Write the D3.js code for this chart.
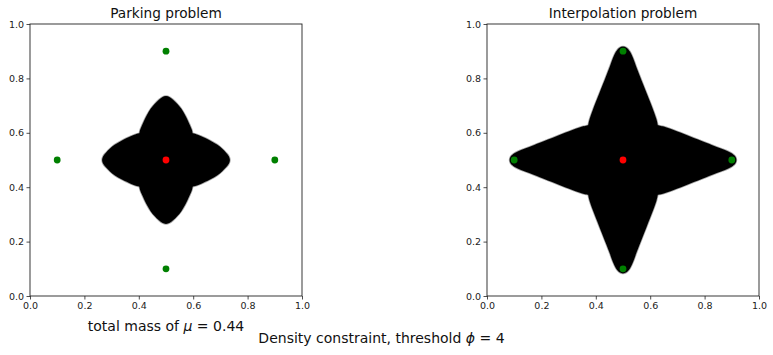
<!DOCTYPE html>
<html>
<head>
<meta charset="utf-8">
<script src="https://cdn.jsdelivr.net/npm/d3@7"></script>
<style>
body { margin: 0; background: #fff; }
svg { font-family: "DejaVu Sans", sans-serif; }
</style>
</head>
<body>
<svg class="canvas"></svg>
<script>
/*
	two panels: density shape with target points
*/

var dwidth = 773;
var dheight = 355;

// panel titles and tick labels
var titles = ["Parking problem", "Interpolation problem"];
var ticks = [0, 0.2, 0.4, 0.6, 0.8, 1.0];

// target points (green) and centre (red)
var targets = [[0.5, 0.9], [0.1, 0.5], [0.9, 0.5], [0.5, 0.1]];
var centre = [[0.5, 0.5]];

// half of one lobe edge, tip -> junction (upper right)
var parkingArm = [[0.5, 0.735], [0.514, 0.731], [0.527, 0.721], [0.542, 0.706], [0.556, 0.689],
	[0.572, 0.662], [0.588, 0.628], [0.595, 0.611], [0.598, 0.598]];
var interpArm = [[0.5, 0.917], [0.513, 0.913], [0.526, 0.898], [0.537, 0.875], [0.548, 0.845],
	[0.563, 0.806], [0.587, 0.745], [0.611, 0.684], [0.623, 0.65], [0.628, 0.628]];
var arms = [parkingArm, interpArm];

var panelX = [30, 487];
var pw = 272, ph = 272, ytop = 24;

var canv = d3.select(".canvas").attr("width", dwidth).attr("height", dheight);

// rotate a point k quarter turns about (0.5,0.5)
function rot(p, k) {
	var x = p[0] - 0.5, y = p[1] - 0.5;
	for (var r = 0; r < k; r++) { var t = x; x = y; y = -t; }
	return [x + 0.5, y + 0.5];
}

// four lobes built from the half edge by symmetry
function lobes(arm) {
	var left = arm.slice(1).reverse().map(function(p) { return [1 - p[0], p[1]]; });
	var lobe = left.concat(arm);
	return [0, 1, 2, 3].map(function(k) {
		return lobe.map(function(p) { return rot(p, k); });
	});
}

panelX.forEach(function(x0, i) {
	var sx = d3.scaleLinear().domain([0, 1]).range([x0, x0 + pw]);
	var sy = d3.scaleLinear().domain([0, 1]).range([ytop + ph, ytop]);
	var g = canv.append("g");

	var line = d3.line()
		.x(function(d) { return sx(d[0]); })
		.y(function(d) { return sy(d[1]); })
		.curve(d3.curveCatmullRom.alpha(0.5));
	// one outline: lobes joined end to end, sharp at the junctions
	var shape = lobes(arms[i]).map(function(l, k) {
		var s = line(l);
		return k ? s.replace(/^M/, "L") : s;
	}).join("") + "Z";

	// soft grey edge then black fill
	g.append("path").attr("d", shape).attr("fill", "none")
		.attr("stroke", "#a8a8a8").attr("stroke-width", 1.6);
	g.append("path").attr("d", shape).attr("fill", "#000");

	g.selectAll("circle.t").data(targets).enter().append("circle")
		.attr("cx", function(d) { return sx(d[0]); })
		.attr("cy", function(d) { return sy(d[1]); })
		.attr("r", 3.4).attr("fill", "green");
	g.selectAll("circle.c").data(centre).enter().append("circle")
		.attr("cx", function(d) { return sx(d[0]); })
		.attr("cy", function(d) { return sy(d[1]); })
		.attr("r", 3.4).attr("fill", "red");

	// axes
	var xa = g.append("g").attr("transform", "translate(0," + (ytop + ph) + ")")
		.call(d3.axisBottom(sx).tickValues(ticks).tickFormat(d3.format(".1f")).tickSizeOuter(0).tickSize(3.5).tickPadding(2.5));
	var ya = g.append("g").attr("transform", "translate(" + x0 + ",0)")
		.call(d3.axisLeft(sy).tickValues(ticks).tickFormat(d3.format(".1f")).tickSizeOuter(0).tickSize(3.5).tickPadding(2.5));
	[xa, ya].forEach(function(a) {
		a.select(".domain").remove();
		a.selectAll("text").attr("font-size", "9.5px").attr("font-family", "DejaVu Sans").attr("fill", "#222");
		a.selectAll("line").attr("stroke", "#222").attr("stroke-width", 0.8);
	});
	g.append("rect").attr("x", x0).attr("y", ytop).attr("width", pw).attr("height", ph)
		.attr("fill", "none").attr("stroke", "#222").attr("stroke-width", 0.9);

	g.append("text").attr("x", x0 + pw / 2).attr("y", 18)
		.attr("text-anchor", "middle").attr("font-size", "13.7px").attr("fill", "#111")
		.text(titles[i]);
});

// bottom texts with mathtext-like italic symbols
var lab = canv.append("text").attr("x", 166).attr("y", 330.5)
	.attr("text-anchor", "middle").attr("font-size", "14px").attr("fill", "#111");
lab.append("tspan").text("total mass of ");
lab.append("tspan").attr("font-style", "italic").text("\u03bc");
lab.append("tspan").text(" = 0.44");

var sup = canv.append("text").attr("x", 381.5).attr("y", 343)
	.attr("text-anchor", "middle").attr("font-size", "14px").attr("fill", "#111");
sup.append("tspan").text("Density constraint, threshold ");
sup.append("tspan").attr("font-style", "italic").text("\u03d5");
sup.append("tspan").text(" = 4");
</script>
</body>
</html>
